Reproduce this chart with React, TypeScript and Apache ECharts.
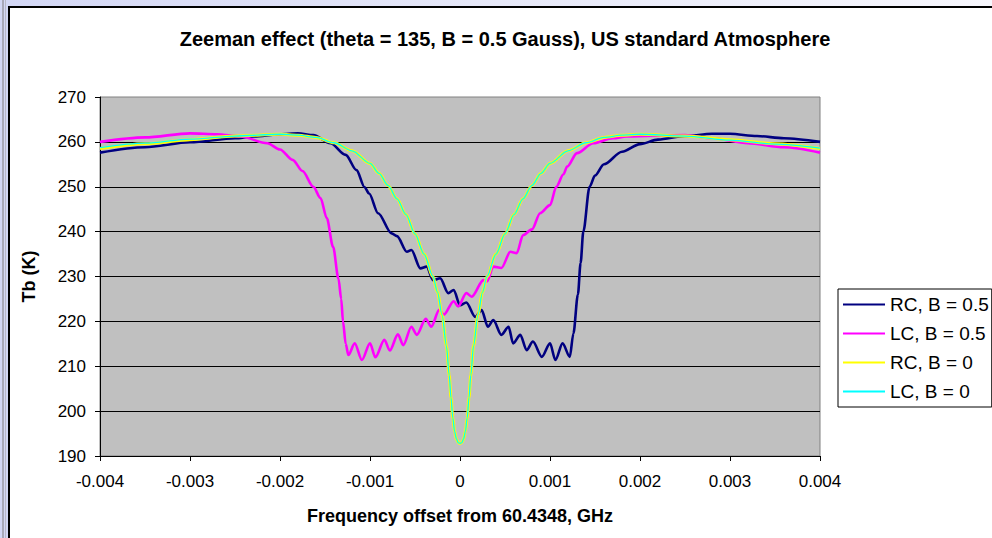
import React, { useEffect, useRef } from "react";
import * as echarts from "echarts";

const TITLE = "Zeeman effect (theta = 135, B = 0.5 Gauss), US standard Atmosphere";
const X_NAME = "Frequency offset from 60.4348, GHz";
const Y_NAME = "Tb (K)";
const SERIES_NAMES = ["RC, B = 0.5", "LC, B = 0.5", "RC, B = 0", "LC, B = 0"];

// RC, B = 0.5 (navy)
const rcB05: [number, number][] = [
  [-0.004, 257.6], [-0.0035, 258.8], [-0.003, 259.9], [-0.0025, 260.8], [-0.0023, 261.2],
  [-0.002, 261.7], [-0.0018, 261.9], [-0.00163, 261.5], [-0.00144, 259.7], [-0.00127, 257.1],
  [-0.00115, 253.7], [-0.00106, 249.9], [-0.00101, 248.5], [-0.00091, 244.1], [-0.00076, 239.6],
  [-0.0007, 239.0], [-0.00059, 235.5], [-0.00054, 235.9], [-0.00044, 231.8], [-0.00037, 232.2],
  [-0.0003, 229.2], [-0.00022, 229.6], [-0.00013, 226.3], [-0.00007, 227.0], [0.0, 223.6],
  [0.00007, 224.2], [0.00017, 221.0], [0.00024, 222.5], [0.00031, 218.8], [0.00037, 220.3],
  [0.00046, 217.0], [0.00054, 218.8], [0.00059, 215.1], [0.00067, 217.0], [0.00074, 213.6],
  [0.00081, 215.5], [0.00091, 212.1], [0.001, 215.1], [0.00106, 211.4], [0.00114, 215.1],
  [0.00122, 212.1], [0.00126, 217.3], [0.00131, 226.0], [0.00134, 233.0], [0.00137, 240.0],
  [0.00144, 250.0], [0.0015, 252.5], [0.0016, 255.0], [0.0018, 257.8], [0.002, 259.5],
  [0.0022, 260.5], [0.0025, 261.3], [0.0028, 261.8], [0.003, 261.8], [0.0033, 261.3],
  [0.0036, 260.8], [0.004, 260.0],
];

// LC, B = 0.5 (magenta)
const lcB05: [number, number][] = [
  [-0.004, 260.0], [-0.0035, 261.0], [-0.003, 261.9], [-0.0027, 261.7], [-0.00244, 261.2],
  [-0.00214, 259.7], [-0.002, 258.3], [-0.00186, 256.0], [-0.00175, 253.5], [-0.00163, 250.0],
  [-0.00155, 247.5], [-0.00148, 243.0], [-0.00141, 236.6], [-0.00135, 229.5], [-0.00132, 225.0],
  [-0.0013, 220.0], [-0.00127, 215.0], [-0.00124, 212.5], [-0.00117, 215.1], [-0.00109, 211.4],
  [-0.001, 215.1], [-0.00094, 212.0], [-0.00084, 215.9], [-0.00078, 213.5], [-0.00069, 217.1],
  [-0.00063, 214.7], [-0.00054, 218.8], [-0.00048, 217.0], [-0.00038, 220.6], [-0.00032, 218.8],
  [-0.00023, 222.6], [-0.00018, 221.5], [-0.00007, 224.5], [-0.00002, 223.3], [0.00007, 226.3],
  [0.00013, 225.5], [0.00026, 229.2], [0.0003, 228.9], [0.00037, 232.2], [0.00046, 231.9],
  [0.00056, 235.5], [0.00063, 235.2], [0.0007, 239.2], [0.0008, 240.5], [0.00089, 244.1],
  [0.001, 245.9], [0.00107, 250.0], [0.00115, 252.8], [0.00119, 254.5], [0.0013, 257.5],
  [0.00148, 259.7], [0.0017, 260.8], [0.00185, 261.2], [0.0025, 261.5], [0.0028, 260.8],
  [0.0032, 259.7], [0.0036, 258.8], [0.004, 257.6],
];

// RC, B = 0 (yellow)
const rcB0: [number, number][] = [
  [-0.004, 258.5], [-0.0035, 259.6], [-0.003, 260.5], [-0.0025, 261.3], [-0.002, 261.7],
  [-0.0018, 261.5], [-0.0016, 261.0], [-0.0014, 259.8], [-0.0012, 258.0], [-0.001, 255.2],
  [-0.0009, 253.0], [-0.0008, 250.3], [-0.0007, 247.3], [-0.0006, 243.8], [-0.0005, 239.5],
  [-0.0004, 235.0], [-0.0003, 230.0], [-0.00025, 226.5], [-0.0002, 221.5], [-0.00015, 214.5],
  [-0.00012, 208.0], [-0.0001, 203.0], [-0.00008, 198.5], [-0.00006, 195.5], [-0.00004, 193.8],
  [-0.00002, 193.0], [0.0, 192.8], [0.00002, 193.0], [0.00004, 193.8], [0.00006, 195.5],
  [0.00008, 198.5], [0.0001, 203.0], [0.00012, 208.0], [0.00015, 214.5], [0.0002, 221.5],
  [0.00025, 226.5], [0.0003, 230.0], [0.0004, 235.0], [0.0005, 239.5], [0.0006, 243.8],
  [0.0007, 247.3], [0.0008, 250.3], [0.0009, 253.0], [0.001, 255.2], [0.0012, 258.0],
  [0.0014, 259.8], [0.0016, 261.0], [0.0018, 261.5], [0.002, 261.7], [0.0025, 261.3],
  [0.003, 260.5], [0.0035, 259.6], [0.004, 258.5],
];

// LC, B = 0 (cyan)
const lcB0: [number, number][] = [
  [-0.004, 258.7], [-0.0035, 259.7], [-0.003, 260.6], [-0.0025, 261.3], [-0.002, 261.7],
  [-0.0018, 261.5], [-0.0016, 261.0], [-0.0014, 259.8], [-0.0012, 258.0], [-0.001, 255.2],
  [-0.0009, 253.0], [-0.0008, 250.3], [-0.0007, 247.3], [-0.0006, 243.8], [-0.0005, 239.5],
  [-0.0004, 235.0], [-0.0003, 230.0], [-0.00025, 226.5], [-0.0002, 221.5], [-0.00015, 214.5],
  [-0.00012, 208.0], [-0.0001, 203.0], [-0.00008, 198.5], [-0.00006, 195.5], [-0.00004, 193.8],
  [-0.00002, 193.0], [0.0, 192.8], [0.00002, 193.0], [0.00004, 193.8], [0.00006, 195.5],
  [0.00008, 198.5], [0.0001, 203.0], [0.00012, 208.0], [0.00015, 214.5], [0.0002, 221.5],
  [0.00025, 226.5], [0.0003, 230.0], [0.0004, 235.0], [0.0005, 239.5], [0.0006, 243.8],
  [0.0007, 247.3], [0.0008, 250.3], [0.0009, 253.0], [0.001, 255.2], [0.0012, 258.0],
  [0.0014, 259.8], [0.0016, 261.0], [0.0018, 261.5], [0.002, 261.7], [0.0025, 261.3],
  [0.003, 260.4], [0.0035, 259.5], [0.004, 258.6],
];

const FONT = "'Liberation Sans', Arial, sans-serif";

export default function App() {
  const ref = useRef<HTMLDivElement>(null);
  useEffect(() => {
    if (!ref.current) return;
    const chart = echarts.init(ref.current, undefined, { renderer: "svg" });
    const smoothLine = (name: string, data: [number, number][], color: string, width: number) => ({
      name,
      type: "line",
      data,
      symbol: "none",
      showSymbol: false,
      smooth: 0.3,
      smoothMonotone: "x",
      lineStyle: { color, width },
      itemStyle: { color },
    });
    chart.setOption({
      animation: false,
      backgroundColor: "transparent",
      textStyle: { fontFamily: FONT },
      title: {
        text: TITLE,
        left: 500,
        top: 24,
        textAlign: "center",
        textStyle: { fontFamily: FONT, fontSize: 20, fontWeight: "bold", color: "#000" },
      },
      legend: {
        orient: "vertical",
        left: 838,
        top: 289,
        padding: [6, 3, 6, 4],
        itemWidth: 42,
        itemHeight: 14,
        itemGap: 10,
        borderColor: "#000",
        borderWidth: 1,
        backgroundColor: "#fff",
        itemStyle: { opacity: 0, borderWidth: 0 },
        textStyle: { fontFamily: FONT, fontSize: 19, color: "#000" },
        data: SERIES_NAMES,
      },
      grid: {
        left: 100,
        top: 97,
        width: 720,
        height: 359,
        show: true,
        backgroundColor: "#c0c0c0",
        borderColor: "#808080",
        borderWidth: 1,
        containLabel: false,
      },
      xAxis: {
        type: "value",
        min: -0.004,
        max: 0.004,
        interval: 0.001,
        name: X_NAME,
        nameLocation: "middle",
        nameGap: 51,
        nameTextStyle: { fontFamily: FONT, fontSize: 18, fontWeight: "bold", color: "#000" },
        axisLine: { show: true, onZero: false, lineStyle: { color: "#000", width: 1 } },
        axisTick: { show: true, inside: false, length: 5, lineStyle: { color: "#000" } },
        axisLabel: {
          margin: 17,
          fontSize: 17,
          color: "#000",
          fontFamily: FONT,
          formatter: (v: number) => String(parseFloat(v.toFixed(3))),
        },
        splitLine: { show: false },
      },
      yAxis: {
        type: "value",
        min: 190,
        max: 270,
        interval: 10,
        name: Y_NAME,
        nameLocation: "middle",
        nameGap: 62,
        nameRotate: 90,
        nameTextStyle: { fontFamily: FONT, fontSize: 18, fontWeight: "bold", color: "#000" },
        axisLine: { show: true, onZero: false, lineStyle: { color: "#000", width: 1 } },
        axisTick: { show: true, inside: false, length: 5, lineStyle: { color: "#000" } },
        axisLabel: { margin: 14, fontSize: 17, color: "#000", fontFamily: FONT },
        splitLine: {
          show: true,
          showMinLine: false,
          showMaxLine: false,
          lineStyle: { color: "#000", width: 1 },
        },
      },
      series: [
        smoothLine(SERIES_NAMES[0], rcB05, "#000080", 2.6),
        smoothLine(SERIES_NAMES[1], lcB05, "#ff00ff", 2.6),
        smoothLine(SERIES_NAMES[2], rcB0, "#ffff00", 3),
        smoothLine(SERIES_NAMES[3], lcB0, "#00ffff", 1.3),
      ],
    });
    return () => chart.dispose();
  }, []);

  return (
    <div style={{ position: "fixed", left: 0, top: 0, width: 992, height: 538, background: "#d3d7f5", overflow: "hidden" }}>
      <div style={{ position: "absolute", left: 2, top: 0, width: 2, height: 538, background: "#a8a8b8" }} />
      <div style={{ position: "absolute", left: 5, top: 0, width: 1, height: 538, background: "#b8b8c8" }} />
      <div
        style={{
          position: "absolute",
          left: 8,
          top: 0,
          width: 984,
          height: 6,
          background: "linear-gradient(90deg, #d3d7f5 0%, #e6e8f8 50%, #f7f7fd 100%)",
        }}
      />
      <div
        style={{
          position: "absolute",
          left: 8,
          top: 6,
          width: 984,
          height: 532,
          background: "#fff",
          borderLeft: "2px solid #000",
          borderTop: "2px solid #000",
          boxSizing: "border-box",
        }}
      />
      <div ref={ref} style={{ position: "absolute", left: 0, top: 0, width: 992, height: 538 }} />
    </div>
  );
}
